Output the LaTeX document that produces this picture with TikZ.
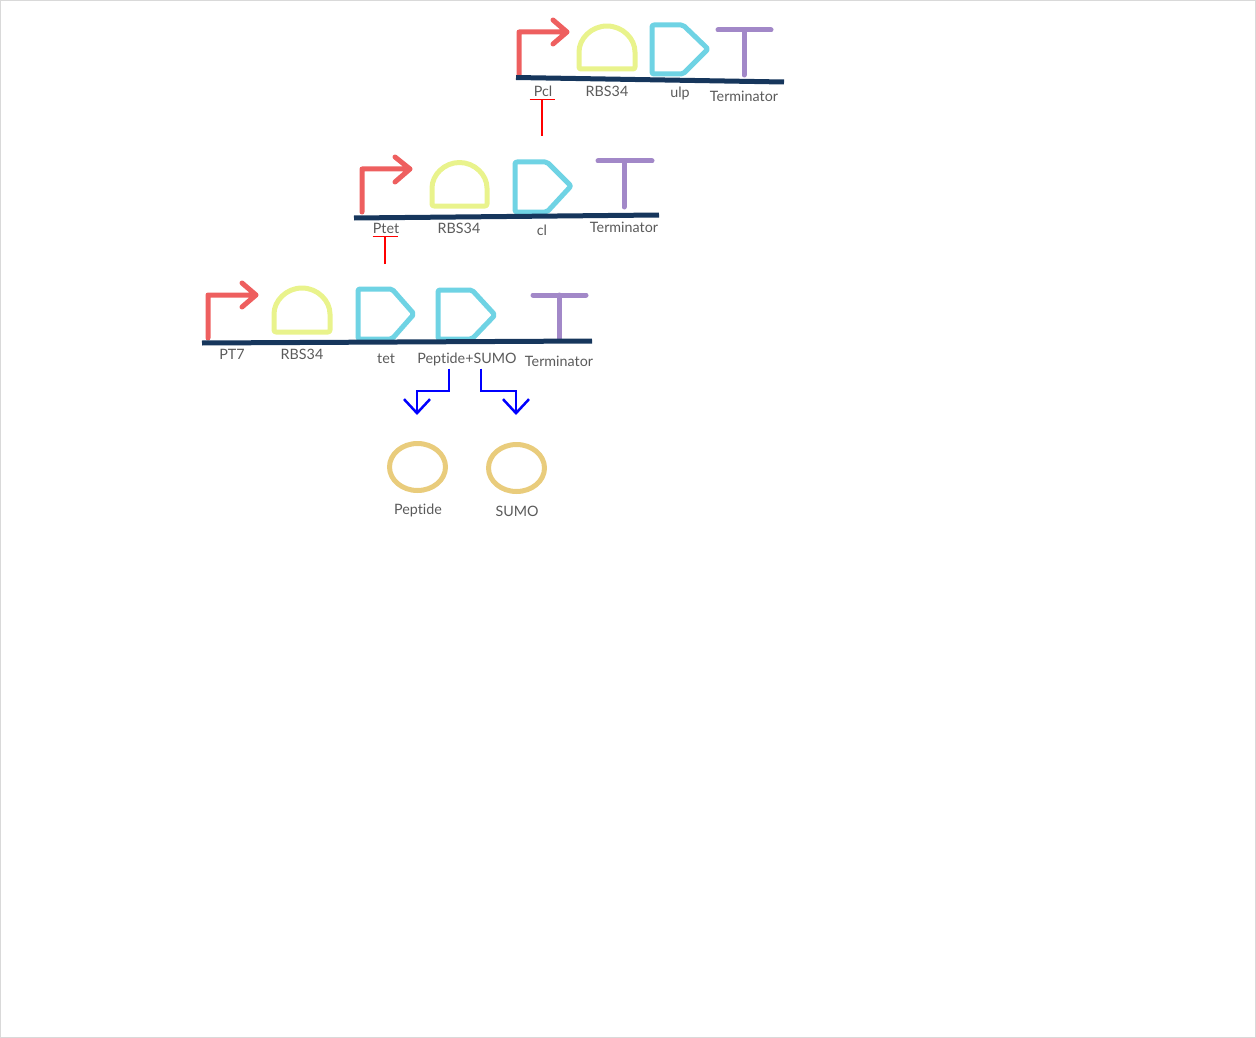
\documentclass[tikz,border=0pt]{standalone}
\usepackage{fontspec}
\setmainfont[Ligatures=NoCommon]{Lato}
\usetikzlibrary{arrows.meta, shapes.geometric}
\definecolor{strandcol}{HTML}{16365C}
\definecolor{promcol}{HTML}{EE5F5F}
\definecolor{rbscol}{HTML}{E9F38C}
\definecolor{cdscol}{HTML}{6FD3E4}
\definecolor{termcol}{HTML}{A288C8}
\definecolor{protcol}{HTML}{E9CC7C}
\definecolor{textcol}{HTML}{5A5A5A}
\tikzstyle{strand} = [line width=5pt, strandcol]
\tikzstyle{promoter} = [line width=5pt, promcol, line join=round, line cap=round]
\tikzstyle{rbs} = [line width=5pt, rbscol, line join=round, rounded corners=2pt]
\tikzstyle{cds} = [line width=5pt, cdscol, line join=round, rounded corners=2pt]
\tikzstyle{term} = [line width=5pt, termcol, line cap=round]
\tikzstyle{protein} = [ellipse, draw=protcol, line width=5pt, minimum width=56pt, minimum height=47pt, inner sep=0pt]
\tikzstyle{label} = [inner sep=0pt, minimum height=18pt, text=textcol, font=\fontsize{14.3}{16}\selectfont]
\tikzstyle{inhibit} = [red, line width=1.5pt, -{Bar[width=25pt,line width=1.2pt]}]
\tikzstyle{release} = [blue, line width=1.5pt, -{Straight Barb[width=26pt,length=14pt,line width=2.5pt]}]
\begin{document}
\begin{tikzpicture}[x=1pt,y=-1pt]
\useasboundingbox (0,0) rectangle (1256,1038);
\draw [black!15, line width=1pt] (0.5,0.5) rectangle (1255.5,1037.5);

% Top row
\draw [promoter] (519,75) -- (519,32) -- (567,32) (553,20) -- (567,32) -- (553,44);
\draw [rbs] (579,69) -- (579,54) arc[start angle=180, end angle=360, radius=28] -- (635,69) -- cycle;
\draw [cds] (652,25) -- (683,25) -- (708,49) -- (683,74) -- (652,74) -- cycle;
\draw [term] (718,30) -- (771,30) (744,30) -- (744,75);
\draw [strand] (516,77.5) -- (784,82);
\node (pcl) [label] at (543,91) {Pcl};
\node (rbsA) [label] at (607,91) {RBS34};
\node (ulp) [label] at (680,93) {ulp};
\node (termA) [label] at (744,96) {Terminator};

% Middle row
\draw [promoter] (362,212) -- (362,169) -- (410,169) (395,157) -- (410,169) -- (395,182);
\draw [rbs] (432,206) -- (432,190) arc[start angle=180, end angle=360, radius=27.5] -- (487,206) -- cycle;
\draw [cds] (515,162) -- (547,162) -- (571,186) -- (547,212) -- (515,212) -- cycle;
\draw [term] (598,161) -- (652,161) (624,161) -- (624,207);
\draw [strand] (354,218) -- (659,215);
\node (ptet) [label] at (386,228) {Ptet};
\node (rbsB) [label] at (459,228) {RBS34};
\node (cl) [label] at (542,230) {cl};
\node (termB) [label] at (624,227) {Terminator};

% Bottom row
\draw [promoter] (208,338) -- (208,295) -- (256,295) (242,283) -- (256,295) -- (242,307);
\draw [rbs] (274,332) -- (274,316) arc[start angle=180, end angle=360, radius=28] -- (330,332) -- cycle;
\draw [cds] (358,289) -- (392,289) -- (414,314) -- (392,339) -- (358,339) -- cycle;
\draw [cds] (438,290) -- (472,290) -- (495,315) -- (472,339) -- (438,339) -- cycle;
\draw [term] (533,295) -- (586,295) (559,295) -- (559,340);
\draw [strand] (202,343) -- (592,341);
\node (pt7) [label] at (232,354) {PT7};
\node (rbsC) [label] at (302,354) {RBS34};
\node (tet) [label] at (386,358.5) {tet};
\node (fusion) [label] at (467,359.5) {Peptide+SUMO};
\node (termC) [label] at (559,361) {Terminator};

% Products
\node (peptide) [protein] at (417.5,467) {};
\node (sumo) [protein] at (516.5,468) {};
\node (peptideText) [label] at (418,510.5) {Peptide};
\node (sumoText) [label] at (517,511) {SUMO};

% Placement of edges
\coordinate (pclIn) at (542,136);
\coordinate (ptetIn) at (385,264);
\coordinate (peptideIn) at (417,415);
\coordinate (sumoIn) at (516,415);
\draw [inhibit] (pclIn) -- ([yshift=1pt]pclIn |- pcl.south);
\draw [inhibit] (ptetIn) -- ([yshift=1pt]ptetIn |- ptet.south);
\draw [release] ([xshift=-18pt]fusion.south) |- ([yshift=24pt]peptideIn) -- (peptideIn);
\draw [release] ([xshift=14pt]fusion.south) |- ([yshift=24pt]sumoIn) -- (sumoIn);
\end{tikzpicture}
\end{document}
